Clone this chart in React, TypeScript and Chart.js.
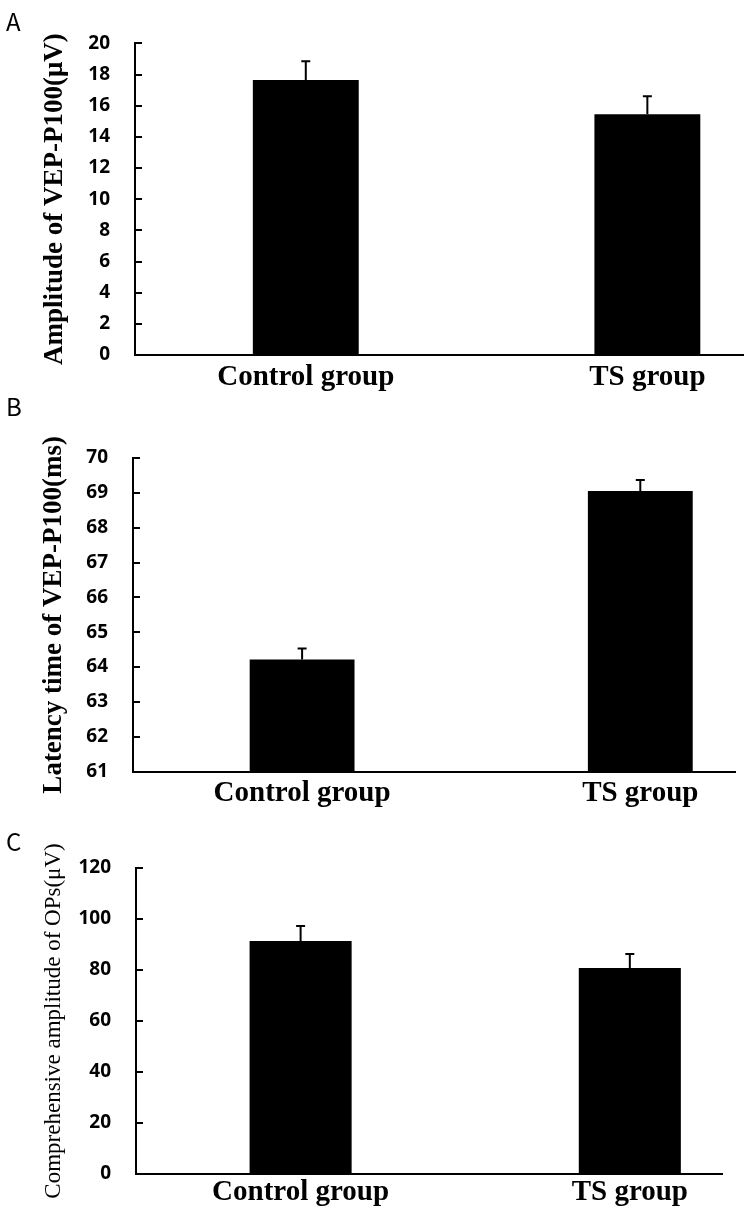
import React, { useEffect, useRef } from 'react';
import { Chart, registerables } from 'chart.js';

Chart.register(...registerables);

// ---- data ----
const categories = ['Control group', 'TS group'];
const categoryPositions = [1, 2];

const amplitudeValues = [17.65, 15.45];
const amplitudeErrors = [1.2, 1.15];
const amplitudeTicks = [0, 2, 4, 6, 8, 10, 12, 14, 16, 18, 20];

const latencyValues = [64.22, 69.05];
const latencyErrors = [0.31, 0.32];
const latencyTicks = [61, 62, 63, 64, 65, 66, 67, 68, 69, 70];

const opsValues = [91.4, 80.8];
const opsErrors = [5.9, 5.5];
const opsTicks = [0, 20, 40, 60, 80, 100, 120];

const errorBarPlugin = {
  id: 'errorBars',
  afterDatasetsDraw(chart: any, _args: any, opts: any) {
    const errs: number[] = (opts && opts.errors) || [];
    const { ctx } = chart;
    const yScale = chart.scales.y;
    chart.data.datasets.forEach((ds: any, di: number) => {
      const meta = chart.getDatasetMeta(di);
      meta.data.forEach((bar: any, i: number) => {
        const v = ds.data[i].y;
        const e = errs[i] || 0;
        const yBar = yScale.getPixelForValue(v);
        const yTop = yScale.getPixelForValue(v + e);
        ctx.save();
        ctx.strokeStyle = '#000';
        ctx.lineWidth = 2;
        ctx.beginPath();
        ctx.moveTo(bar.x, yBar);
        ctx.lineTo(bar.x, yTop);
        ctx.moveTo(bar.x - 4.5, yTop);
        ctx.lineTo(bar.x + 4.5, yTop);
        ctx.stroke();
        ctx.restore();
      });
    });
  },
};

type PanelProps = {
  values: number[];
  errors: number[];
  ticks: number[];
  title: string;
  titleBold: boolean;
  titleSize: number;
  titlePad: number;
  height: number;
  padTop: number;
  padRight: number;
  yWidth: number;
  xHeight: number;
  xLabelPad: number;
};

function Panel(p: PanelProps) {
  const ref = useRef<HTMLCanvasElement | null>(null);
  useEffect(() => {
    if (!ref.current) return;
    const chart = new Chart(ref.current, {
      type: 'bar',
      data: {
        datasets: [
          {
            data: categoryPositions.map((x, i) => ({ x, y: p.values[i] })),
            backgroundColor: '#000',
            borderWidth: 0,
            barPercentage: 0.31,
            categoryPercentage: 1,
          } as any,
        ],
      },
      options: {
        animation: false,
        responsive: false,
        events: [],
        layout: { padding: { top: p.padTop, right: p.padRight, bottom: 0, left: 0 } },
        plugins: {
          legend: { display: false },
          tooltip: { enabled: false },
          errorBars: { errors: p.errors },
        } as any,
        scales: {
          x: {
            type: 'linear',
            offset: false,
            min: 0.5,
            max: 2.28,
            afterBuildTicks: (s: any) => {
              s.ticks = categoryPositions.map((v) => ({ value: v }));
            },
            afterFit: (s: any) => {
              s.height = p.xHeight;
            },
            ticks: {
              autoSkip: false,
              maxRotation: 0,
              padding: p.xLabelPad,
              color: '#000',
              font: { family: '"Liberation Serif", serif', size: 29, weight: 'bold' },
              callback: (v: any) => {
                const idx = categoryPositions.indexOf(Number(v));
                return idx >= 0 ? categories[idx] : '';
              },
            },
            grid: { offset: false, drawOnChartArea: false, drawTicks: false },
            border: { display: true, color: '#000', width: 2 },
          },
          y: {
            type: 'linear',
            min: p.ticks[0],
            max: p.ticks[p.ticks.length - 1],
            afterBuildTicks: (s: any) => {
              s.ticks = p.ticks.map((v) => ({ value: v }));
            },
            afterFit: (s: any) => {
              s.width = p.yWidth;
            },
            ticks: {
              padding: 32,
              color: '#000',
              font: { family: '"Open Sans", sans-serif', size: 19, weight: 'bold' },
            },
            grid: { drawOnChartArea: false, drawTicks: true, tickLength: -7, color: '#000', lineWidth: 2 },
            border: { display: true, color: '#000', width: 2 },
            title: {
              display: true,
              text: p.title,
              color: '#000',
              font: { family: '"Liberation Serif", serif', size: p.titleSize, weight: p.titleBold ? 'bold' : 'normal' },
              padding: { top: p.titlePad, bottom: 0 },
            },
          },
        },
      } as any,
      plugins: [errorBarPlugin as any],
    });
    return () => chart.destroy();
  }, []);
  return <canvas ref={ref} width={749} height={p.height} style={{ display: 'block' }} />;
}

const letterStyle: React.CSSProperties = {
  position: 'absolute',
  left: 6,
  fontFamily: '"Noto Sans CJK SC", sans-serif',
  fontSize: 24,
  lineHeight: '24px',
  color: '#000',
};

export default function App() {
  return (
    <div style={{ position: 'absolute', left: 0, top: 0, width: 749, height: 1222, background: '#fff' }}>
      <div style={{ position: 'absolute', left: 0, top: 0 }}>
        <Panel
          values={amplitudeValues}
          errors={amplitudeErrors}
          ticks={amplitudeTicks}
          title="Amplitude of VEP-P100(μV)"
          titleBold={true}
          titleSize={27}
          titlePad={39}
          height={410}
          padTop={38}
          padRight={6}
          yWidth={135}
          xHeight={55}
          xLabelPad={5}
        />
      </div>
      <div style={{ position: 'absolute', left: 0, top: 410 }}>
        <Panel
          values={latencyValues}
          errors={latencyErrors}
          ticks={latencyTicks}
          title="Latency time of VEP-P100(ms)"
          titleBold={true}
          titleSize={27}
          titlePad={38}
          height={405}
          padTop={48}
          padRight={14}
          yWidth={133}
          xHeight={38}
          xLabelPad={5}
        />
      </div>
      <div style={{ position: 'absolute', left: 0, top: 815 }}>
        <Panel
          values={opsValues}
          errors={opsErrors}
          ticks={opsTicks}
          title="Comprehensive amplitude of OPs(μV)"
          titleBold={false}
          titleSize={23}
          titlePad={40}
          height={407}
          padTop={53}
          padRight={27}
          yWidth={136}
          xHeight={48}
          xLabelPad={1}
        />
      </div>
      <div style={{ ...letterStyle, top: 9 }}>A</div>
      <div style={{ ...letterStyle, top: 394 }}>B</div>
      <div style={{ ...letterStyle, top: 829 }}>C</div>
    </div>
  );
}
